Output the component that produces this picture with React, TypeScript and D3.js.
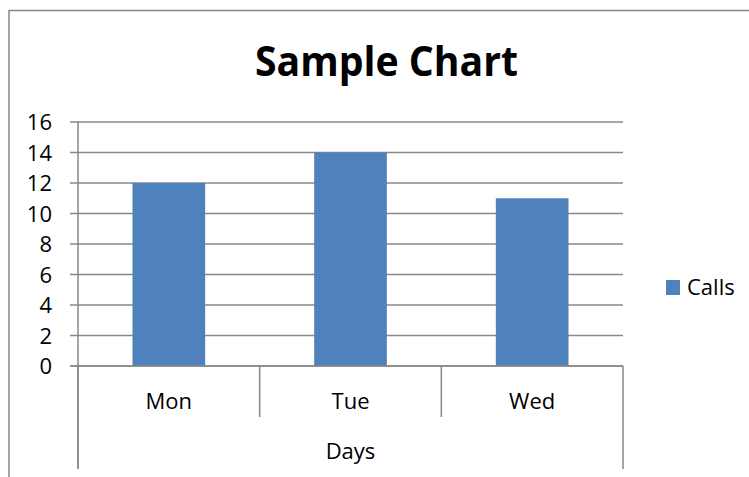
import React from "react";
import * as d3 from "d3";

const categories = ["Mon", "Tue", "Wed"];
const calls = [12, 14, 11];
const yTicks = [0, 2, 4, 6, 8, 10, 12, 14, 16];
const seriesName = "Calls";
const axisTitle = "Days";
const chartTitle = "Sample Chart";

const W = 749;
const H = 477;
const FONT = "'Open Sans', 'DejaVu Sans', sans-serif";
const GRID = "#888888";
const BAR = "#4F81BD";

export default function App() {
  const x = d3.scaleBand<string>().domain(categories).range([78, 623]).paddingInner(0).paddingOuter(0);
  const y = d3.scaleLinear().domain([0, 16]).range([366, 122]);
  const bw = x.bandwidth();
  const boundaries = categories.map((c) => x(c) as number).concat([x.range()[1]]);

  return (
    <svg
      width={W}
      height={H}
      style={{ position: "absolute", left: 0, top: 0, display: "block", background: "#fff" }}
      fontFamily={FONT}
    >
      <rect x={0} y={0} width={W} height={H} fill="#fff" />
      {/* outer border (cropped) */}
      <rect x={9} y={10.5} width={900} height={600} fill="none" stroke={GRID} strokeWidth={1.5} />

      {/* title */}
      <text x={386.5} y={76} textAnchor="middle" fontSize={41} fontWeight="bold" fill="#000"
        textLength={263} lengthAdjust="spacingAndGlyphs">
        {chartTitle}
      </text>

      {/* gridlines + tick labels */}
      {yTicks.map((t) => (
        <g key={t}>
          <line x1={70} x2={623} y1={y(t)} y2={y(t)} stroke={GRID} strokeWidth={1.5} />
          <text x={52} y={y(t) + 8} textAnchor="end" fontSize={22} fill="#000">
            {t}
          </text>
        </g>
      ))}

      {/* bars */}
      {categories.map((c, i) => (
        <rect
          key={c}
          x={(x(c) as number) + bw * 0.3}
          y={y(calls[i])}
          width={bw * 0.4}
          height={y(0) - y(calls[i])}
          fill={BAR}
        />
      ))}

      {/* axes */}
      <line x1={78} x2={78} y1={y(16) - 0.75} y2={469} stroke={GRID} strokeWidth={1.5} />
      <line x1={70} x2={623} y1={y(0)} y2={y(0)} stroke={GRID} strokeWidth={1.5} />
      {boundaries.map((b, i) => {
        const outer = i === 0 || i === boundaries.length - 1;
        return (
          <line key={i} x1={b} x2={b} y1={y(0)} y2={outer ? 469 : 417} stroke={GRID} strokeWidth={1.5} />
        );
      })}

      {/* category labels */}
      {categories.map((c) => (
        <text key={c} x={(x(c) as number) + bw / 2} y={409} textAnchor="middle" fontSize={22} fill="#000">
          {c}
        </text>
      ))}
      <text x={350.5} y={459} textAnchor="middle" fontSize={22} fill="#000">
        {axisTitle}
      </text>

      {/* legend */}
      <rect x={666} y={280} width={14} height={15} fill={BAR} />
      <text x={687} y={295} fontSize={22} fill="#000">
        {seriesName}
      </text>
    </svg>
  );
}
